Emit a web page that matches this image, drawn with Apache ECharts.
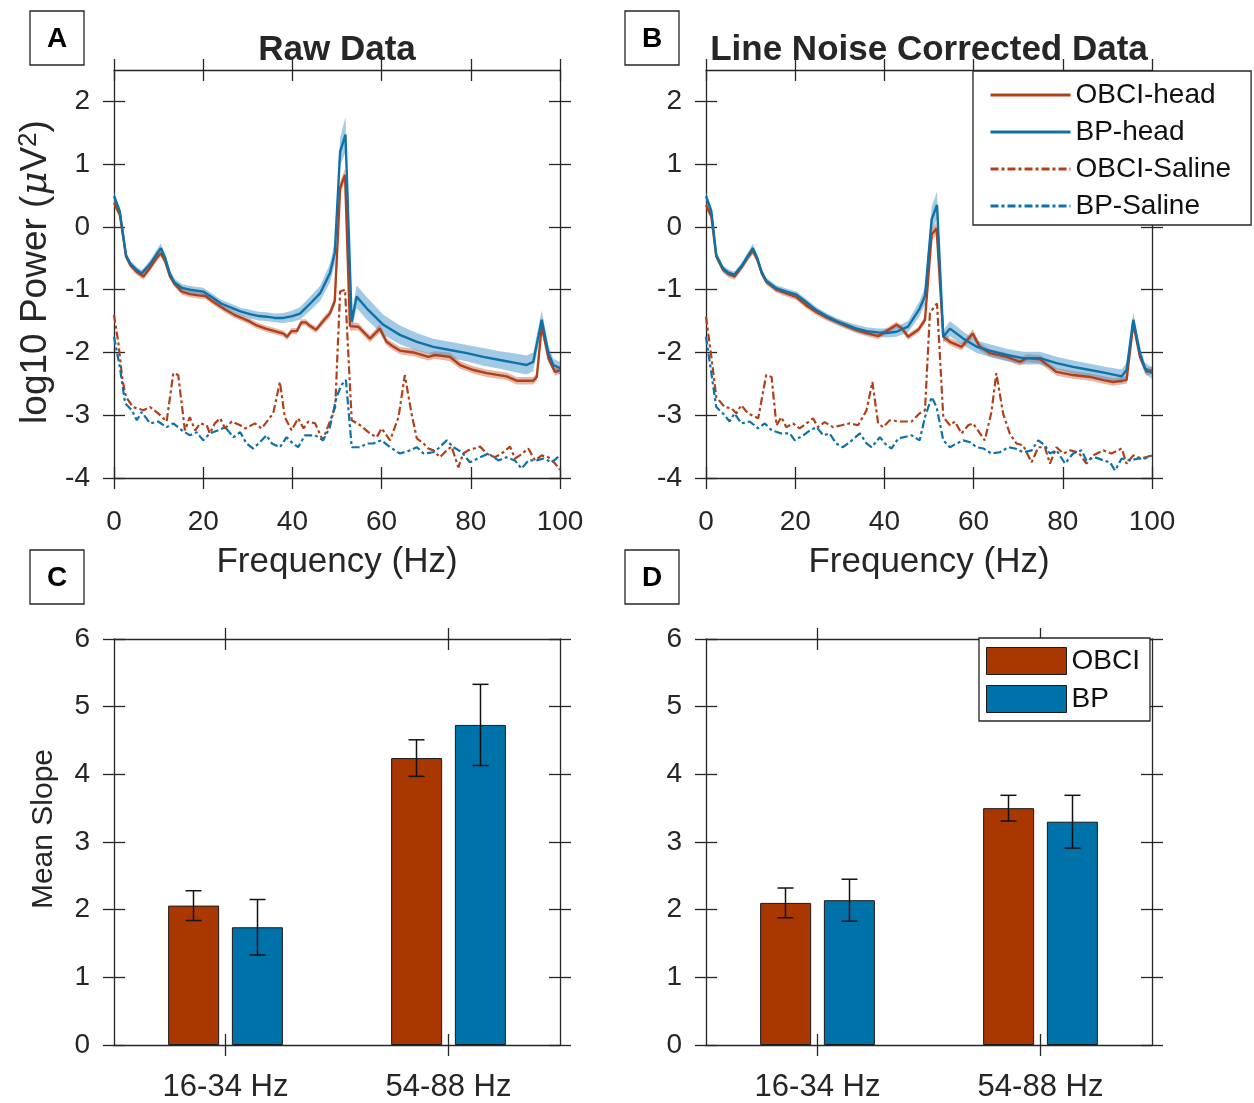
<!DOCTYPE html>
<html><head><meta charset="utf-8">
<script src="https://cdn.jsdelivr.net/npm/echarts@6.0.0/dist/echarts.min.js"></script>
<style>html,body{margin:0;padding:0;background:#fff}#c{width:1254px;height:1103px}</style>
</head><body><div id="c"></div>
<script>
// ---------------- DATA ----------------
const freqTicks = [0, 20, 40, 60, 80, 100];
const powerTicks = [-4, -3, -2, -1, 0, 1, 2];
const slopeTicks = [0, 1, 2, 3, 4, 5, 6];
const bandCategories = ['16-34 Hz', '54-88 Hz'];
const lineNames = ['OBCI-head', 'BP-head', 'OBCI-Saline', 'BP-Saline'];
const barNames = ['OBCI', 'BP'];

// Raw data: [frequency (Hz), mean log10 power, s.e.m.]
const rawObciHead = [[0,0.38,0.06],[1.3,0.2,0.06],[2.7,-0.47,0.05],[3.6,-0.6,0.05],[5,-0.71,0.05],[6.6,-0.79,0.05],[8,-0.66,0.05],[9.5,-0.5,0.06],[10.5,-0.42,0.06],[11.5,-0.55,0.06],[12.5,-0.78,0.05],[13.5,-0.9,0.05],[15.2,-1.03,0.05],[17,-1.07,0.05],[19,-1.09,0.05],[20.5,-1.1,0.05],[22,-1.18,0.05],[23.5,-1.25,0.05],[25,-1.32,0.05],[27,-1.4,0.05],[29,-1.46,0.05],[30.5,-1.51,0.05],[32,-1.57,0.05],[34,-1.62,0.05],[36,-1.66,0.05],[38,-1.7,0.05],[38.8,-1.75,0.05],[39.8,-1.66,0.05],[41,-1.66,0.05],[42,-1.52,0.05],[43,-1.52,0.05],[44,-1.58,0.05],[45.3,-1.64,0.05],[46.9,-1.5,0.06],[48.4,-1.38,0.06],[49.5,-1.18,0.07],[50.7,0.62,0.1],[51.8,0.83,0.1],[52.9,-1.58,0.07],[54.8,-1.59,0.06],[57.4,-1.78,0.06],[59.6,-1.62,0.07],[61.1,-1.83,0.06],[62.5,-1.9,0.06],[64.1,-1.97,0.06],[67.1,-2.0,0.06],[70.5,-2.07,0.06],[72,-2.04,0.06],[75.3,-2.07,0.07],[77.6,-2.2,0.06],[80.6,-2.28,0.06],[83.6,-2.33,0.06],[88,-2.38,0.06],[90.3,-2.45,0.06],[94,-2.45,0.06],[94.8,-2.39,0.06],[95.9,-1.58,0.08],[97.4,-2.09,0.07],[98.9,-2.31,0.06],[100,-2.28,0.06]];
const rawBpHead = [[0,0.49,0.08],[1.3,0.25,0.06],[2.7,-0.45,0.05],[3.6,-0.58,0.05],[5,-0.68,0.05],[6.2,-0.74,0.05],[8,-0.6,0.06],[9.5,-0.44,0.07],[10.5,-0.34,0.08],[11.5,-0.5,0.07],[12.5,-0.74,0.06],[13.5,-0.88,0.06],[15.2,-0.97,0.06],[17,-1.0,0.06],[20,-1.03,0.06],[22,-1.12,0.06],[24,-1.22,0.06],[26.8,-1.3,0.06],[28.5,-1.35,0.06],[30.5,-1.39,0.07],[32.5,-1.42,0.07],[34.2,-1.43,0.07],[36,-1.45,0.07],[38,-1.45,0.08],[40,-1.42,0.09],[41.7,-1.38,0.1],[44,-1.22,0.11],[46.2,-1.06,0.12],[48.4,-0.74,0.15],[49.5,-0.42,0.18],[50.7,1.2,0.22],[51.9,1.47,0.28],[53.3,-1.51,0.12],[54.4,-1.11,0.18],[56.7,-1.3,0.18],[60.4,-1.56,0.16],[64.1,-1.72,0.15],[67.9,-1.83,0.14],[71.6,-1.91,0.13],[75.3,-1.96,0.13],[79.1,-2.01,0.13],[82.8,-2.07,0.14],[86.5,-2.12,0.14],[90.3,-2.17,0.15],[92.5,-2.2,0.15],[94,-2.15,0.15],[95.9,-1.48,0.15],[97.4,-2.01,0.12],[98.5,-2.2,0.1],[100,-2.25,0.1]];
// [frequency (Hz), mean log10 power]
const rawObciSaline = [[0,-1.40],[1,-1.86],[1.9,-2.44],[2.7,-2.71],[4.3,-2.87],[6.6,-2.92],[8.1,-2.87],[9.9,-2.97],[11.8,-3.1],[13.3,-2.33],[14.4,-2.36],[15.9,-3.24],[17,-3.03],[18.2,-3.24],[19.3,-3.13],[20.8,-3.16],[21.5,-3.29],[22.6,-3.13],[23.8,-3.05],[24.9,-3.21],[26.4,-3.1],[28.3,-3.16],[29.4,-3.21],[31.6,-3.13],[33.1,-3.21],[35.7,-2.97],[37.2,-2.47],[38.3,-3.03],[39.8,-3.24],[41.3,-3.05],[42.5,-3.21],[43.6,-3.1],[45.1,-3.13],[46.8,-3.4],[48.4,-3.1],[49.6,-2.87],[50.7,-1.03],[51.8,-1.0],[53.3,-3.08],[55.2,-3.16],[57.4,-3.29],[58.9,-3.35],[60,-3.21],[61.9,-3.4],[63.8,-3.03],[65.2,-2.36],[66.7,-2.97],[67.9,-3.37],[69.4,-3.45],[70.5,-3.53],[71.6,-3.56],[73.1,-3.67],[74.6,-3.56],[75.7,-3.5],[77.2,-3.83],[78.3,-3.61],[79.4,-3.56],[82.1,-3.5],[83.6,-3.61],[85.4,-3.67],[87.3,-3.59],[88.8,-3.5],[89.9,-3.69],[91,-3.64],[92.9,-3.53],[94.4,-3.72],[95.9,-3.64],[97.4,-3.67],[98.9,-3.77],[100,-3.87]];
const rawBpSaline = [[0,-1.75],[1.3,-2.23],[2.5,-2.81],[4,-2.92],[5.1,-3.08],[6.2,-2.95],[8.1,-3.13],[9.9,-3.1],[11.8,-3.19],[13.3,-3.13],[15.2,-3.24],[17,-3.32],[18.5,-3.27],[20,-3.4],[21.5,-3.29],[23.4,-3.24],[24.9,-3.19],[26.8,-3.35],[28.3,-3.27],[29.7,-3.45],[31.2,-3.53],[32.7,-3.43],[34.2,-3.32],[35.4,-3.45],[37.2,-3.51],[38.7,-3.35],[39.8,-3.43],[41.3,-3.51],[42.8,-3.32],[45.1,-3.32],[46.9,-3.4],[48.4,-3.19],[49.9,-2.71],[51,-2.52],[52,-2.44],[53.3,-3.51],[55.2,-3.51],[56.7,-3.45],[58.1,-3.45],[60,-3.4],[61.9,-3.51],[64.1,-3.61],[66.4,-3.56],[67.9,-3.51],[69.4,-3.61],[71.6,-3.59],[72.7,-3.53],[74.6,-3.4],[76.1,-3.51],[78,-3.59],[79.8,-3.75],[82.1,-3.67],[83.9,-3.61],[86.2,-3.72],[88,-3.67],[89.9,-3.72],[91.4,-3.85],[92.9,-3.72],[94.8,-3.72],[96.3,-3.69],[98.2,-3.75],[100,-3.64]];

// Line-noise corrected data
const cleanObciHead = [[0,0.35,0.06],[1.2,0.17,0.06],[2.3,-0.47,0.05],[3.8,-0.68,0.05],[5,-0.75,0.05],[6.4,-0.79,0.05],[8,-0.64,0.05],[9.5,-0.47,0.06],[10.5,-0.38,0.06],[11.5,-0.52,0.06],[12.5,-0.74,0.05],[13.5,-0.87,0.05],[15.8,-1.0,0.05],[18,-1.06,0.05],[20.3,-1.12,0.05],[22.5,-1.25,0.05],[24.8,-1.36,0.05],[27,-1.44,0.05],[29.2,-1.51,0.05],[31.5,-1.58,0.05],[33.7,-1.64,0.05],[36,-1.69,0.05],[38.6,-1.74,0.05],[40.5,-1.66,0.05],[42.7,-1.56,0.05],[44,-1.62,0.05],[45.3,-1.75,0.05],[47.6,-1.64,0.05],[49.1,-1.48,0.06],[50.6,-0.12,0.09],[51.7,-0.02,0.1],[53.2,-1.75,0.06],[54.7,-1.83,0.06],[57.3,-1.91,0.06],[59.8,-1.7,0.07],[61.4,-1.91,0.06],[63.6,-2.01,0.06],[67.4,-2.07,0.06],[70.4,-2.15,0.06],[71.9,-2.09,0.06],[74.9,-2.11,0.07],[77.1,-2.23,0.06],[78.6,-2.31,0.06],[82.3,-2.36,0.06],[86.1,-2.39,0.06],[89.1,-2.44,0.06],[91.3,-2.47,0.06],[94.3,-2.44,0.06],[95.8,-1.54,0.08],[97.3,-2.07,0.07],[98.8,-2.31,0.06],[100,-2.28,0.06]];
const cleanBpHead = [[0,0.49,0.07],[1.2,0.25,0.06],[2.3,-0.45,0.05],[3.8,-0.66,0.05],[5,-0.73,0.05],[6.4,-0.76,0.05],[8,-0.62,0.05],[9.5,-0.45,0.06],[10.5,-0.34,0.07],[11.5,-0.5,0.06],[12.5,-0.72,0.05],[13.5,-0.86,0.05],[15.8,-0.98,0.05],[18,-1.03,0.05],[20.3,-1.08,0.05],[22.5,-1.2,0.05],[24.8,-1.33,0.05],[27,-1.42,0.05],[29.2,-1.5,0.05],[31.5,-1.56,0.05],[33.7,-1.62,0.06],[36,-1.66,0.06],[38.6,-1.68,0.06],[40.5,-1.69,0.07],[42.7,-1.67,0.08],[45.3,-1.59,0.09],[47.9,-1.3,0.12],[49.1,-1.1,0.14],[50.6,0.12,0.2],[51.8,0.35,0.22],[53.2,-1.75,0.1],[54.7,-1.62,0.12],[57.7,-1.78,0.11],[60.7,-1.91,0.1],[63.6,-1.97,0.1],[67.4,-2.04,0.1],[71.1,-2.09,0.1],[74.9,-2.09,0.1],[78.6,-2.17,0.1],[82.3,-2.23,0.1],[86.1,-2.28,0.1],[89.8,-2.33,0.1],[93.2,-2.38,0.11],[94.3,-2.28,0.12],[95.8,-1.48,0.12],[97.3,-2.01,0.1],[98.4,-2.25,0.09],[100,-2.33,0.09]];
const cleanObciSaline = [[0,-1.43],[1.2,-2.07],[2.3,-2.71],[4.2,-2.87],[5.7,-2.89],[6.8,-2.97],[7.9,-2.84],[9.4,-2.97],[11.7,-3.05],[13.5,-2.36],[14.7,-2.39],[15.8,-3.16],[16.9,-3.03],[18,-3.19],[19.5,-3.13],[21,-3.21],[22.5,-3.13],[24,-3.05],[25.1,-3.19],[26.6,-3.11],[28.5,-3.19],[30.4,-3.16],[32.2,-3.13],[34.1,-3.16],[36,-2.92],[37.3,-2.47],[38.6,-3.13],[39.7,-3.19],[41.2,-3.08],[43.5,-3.1],[46.1,-3.1],[47.9,-2.97],[49.1,-2.92],[50.2,-1.38],[50.9,-1.3],[51.8,-1.22],[53.2,-3.03],[54.7,-3.16],[55.8,-3.1],[57.3,-3.29],[58.8,-3.16],[59.9,-3.13],[62.5,-3.4],[64,-2.95],[65.1,-2.33],[66.6,-2.97],[68.1,-3.29],[69.6,-3.45],[71.1,-3.48],[73,-3.75],[74.5,-3.51],[76,-3.51],[77.1,-3.77],[78.6,-3.51],[80.1,-3.61],[81.6,-3.56],[83.5,-3.59],[85.3,-3.77],[86.8,-3.64],[89.1,-3.56],[90.9,-3.61],[93.2,-3.53],[94.3,-3.77],[95.8,-3.64],[97.7,-3.69],[100,-3.64]];
const cleanBpSaline = [[0,-1.75],[1.2,-2.33],[2.3,-2.87],[3.8,-2.97],[5.3,-3.1],[6.4,-2.97],[7.9,-3.13],[9.8,-3.1],[11.7,-3.21],[13.2,-3.13],[14.7,-3.24],[16.9,-3.29],[18.8,-3.29],[19.9,-3.4],[21.8,-3.32],[23.3,-3.24],[24.8,-3.19],[26.3,-3.32],[27.7,-3.29],[29.2,-3.45],[30.7,-3.51],[32.2,-3.43],[34.5,-3.29],[36,-3.45],[37.1,-3.51],[39,-3.35],[40.1,-3.45],[41.6,-3.53],[43.1,-3.37],[46.1,-3.32],[47.9,-3.4],[49.1,-3.03],[50.6,-2.71],[51.7,-2.87],[53.2,-3.4],[54.7,-3.51],[56.2,-3.45],[57.7,-3.4],[59.2,-3.43],[60.7,-3.51],[62.2,-3.53],[64,-3.61],[65.9,-3.59],[67.8,-3.51],[69.3,-3.53],[71.1,-3.59],[73,-3.56],[74.5,-3.4],[76,-3.48],[77.1,-3.61],[78.6,-3.56],[80.5,-3.77],[82.3,-3.61],[84.2,-3.56],[85.3,-3.72],[87.2,-3.67],[89.1,-3.72],[90.6,-3.75],[91.7,-3.88],[93.2,-3.69],[95.1,-3.72],[96.9,-3.69],[98.4,-3.69],[100,-3.64]];

// Mean slope per band (C: raw, D: line-noise corrected)
const rawSlopeObci = [2.06, 4.24];
const rawSlopeObciErr = [0.22, 0.27];
const rawSlopeBp = [1.74, 4.73];
const rawSlopeBpErr = [0.41, 0.60];
const cleanSlopeObci = [2.10, 3.50];
const cleanSlopeObciErr = [0.22, 0.19];
const cleanSlopeBp = [2.14, 3.30];
const cleanSlopeBpErr = [0.31, 0.39];

// ---------------- STYLE ----------------
const FONT = "'Liberation Sans', Arial, Helvetica, sans-serif";
const AX = '#262626';
const ORANGE = '#B0401A';
const BLUE = '#0E72A8';
const ORANGE_BAND = 'rgba(200,95,60,0.45)';
const BLUE_BAND = 'rgba(60,145,200,0.48)';
const BAR_ORANGE = '#A93700';
const BAR_BLUE = '#0072AA';
const TICK_LEN = 11;
const grids = [
  {left: 114, top: 70, width: 446, height: 408},
  {left: 706, top: 70, width: 446, height: 408},
  {left: 114, top: 639, width: 446, height: 407},
  {left: 706, top: 639, width: 446, height: 407}
];

function makeAxes(gi, base, dim, labelOpt) {
  const out = [];
  const positions = dim === 'x' ? ['bottom', 'top'] : ['left', 'right'];
  positions.forEach((pos, pi) => {
    [false, true].forEach((inside) => {
      const ax = Object.assign({}, base, {
        gridIndex: gi,
        position: pos,
        splitLine: {show: false},
        axisPointer: {show: false},
        axisLine: {show: !inside, onZero: false, lineStyle: {color: AX, width: 1.3}},
        axisTick: Object.assign({show: true, inside: inside, length: TICK_LEN,
          lineStyle: {color: AX, width: 1.3}}, base.tickExtra || {}),
        axisLabel: (pi === 0 && !inside) ? labelOpt : {show: false}
      });
      delete ax.tickExtra;
      out.push(ax);
    });
  });
  return out;
}

const xAxes = [], yAxes = [];
[0, 1].forEach(gi => {
  xAxes.push(...makeAxes(gi, {type: 'value', min: 0, max: 100, interval: 20}, 'x',
    {show: true, margin: 30, fontSize: 28, color: AX, fontFamily: FONT,
     customValues: freqTicks}));
  yAxes.push(...makeAxes(gi, {type: 'value', min: -4, max: 2.5,
    tickExtra: {customValues: powerTicks}}, 'y',
    {show: true, margin: 24, fontSize: 28, color: AX, fontFamily: FONT, customValues: powerTicks}));
});
[2, 3].forEach(gi => {
  xAxes.push(...makeAxes(gi, {type: 'category', data: bandCategories, boundaryGap: true,
    tickExtra: {alignWithLabel: true}}, 'x',
    {show: true, margin: 27, fontSize: 31, color: AX, fontFamily: FONT}));
  yAxes.push(...makeAxes(gi, {type: 'value', min: 0, max: 6, interval: 1}, 'y',
    {show: true, margin: 24, fontSize: 28, color: AX, fontFamily: FONT, customValues: slopeTicks}));
});

function bandSeries(points, gi, fill) {
  return {
    type: 'custom', coordinateSystem: 'cartesian2d',
    xAxisIndex: gi * 4, yAxisIndex: gi * 4, silent: true, clip: true,
    data: points.map(p => [p[0], p[1]]),
    renderItem: function (params, api) {
      if (params.dataIndex !== 0) return null;
      const upper = points.map(p => api.coord([p[0], p[1] + p[2]]));
      const lower = points.map(p => api.coord([p[0], p[1] - p[2]])).reverse();
      return {type: 'polygon', shape: {points: upper.concat(lower)}, style: {fill: fill}};
    }
  };
}
function lineSeries(name, points, gi, color, dashed) {
  return {
    name: name, type: 'line', xAxisIndex: gi * 4, yAxisIndex: gi * 4,
    data: points.map(p => [p[0], p[1]]),
    symbol: 'none', silent: true, animation: false,
    lineStyle: dashed ? {color: color, width: 2.2, type: [8, 3, 3, 3]} : {color: color, width: 2.4},
    itemStyle: {color: color}
  };
}
function barSeries(name, vals, gi, color) {
  return {
    name: name, type: 'bar', xAxisIndex: gi * 4, yAxisIndex: gi * 4,
    data: vals, barWidth: 51, barGap: '25%', silent: true,
    itemStyle: {color: color, borderColor: '#1a1a1a', borderWidth: 1}
  };
}
function errSeries(means, errs, gi, dx) {
  return {
    type: 'custom', coordinateSystem: 'cartesian2d', xAxisIndex: gi * 4, yAxisIndex: gi * 4,
    silent: true, z: 5,
    data: means.map((m, i) => [i, m, errs[i]]),
    renderItem: function (params, api) {
      const i = api.value(0), m = api.value(1), e = api.value(2);
      const top = api.coord([i, m + e]);
      const bot = api.coord([i, m - e]);
      const x = top[0] + dx, hw = 8;
      const st = {stroke: '#111', lineWidth: 1.5};
      return {type: 'group', children: [
        {type: 'line', shape: {x1: x, y1: top[1], x2: x, y2: bot[1]}, style: st},
        {type: 'line', shape: {x1: x - hw, y1: top[1], x2: x + hw, y2: top[1]}, style: st},
        {type: 'line', shape: {x1: x - hw, y1: bot[1], x2: x + hw, y2: bot[1]}, style: st}
      ]};
    }
  };
}

const series = [];
[[rawObciHead, rawBpHead, rawObciSaline, rawBpSaline, 0],
 [cleanObciHead, cleanBpHead, cleanObciSaline, cleanBpSaline, 1]].forEach(s => {
  const gi = s[4];
  series.push(bandSeries(s[0], gi, ORANGE_BAND));
  series.push(lineSeries(lineNames[0], s[0], gi, ORANGE, false));
  series.push(bandSeries(s[1], gi, BLUE_BAND));
  series.push(lineSeries(lineNames[1], s[1], gi, BLUE, false));
  series.push(lineSeries(lineNames[2], s[2], gi, ORANGE, true));
  series.push(lineSeries(lineNames[3], s[3], gi, BLUE, true));
});
const BAR_OFF = 32;
[[rawSlopeObci, rawSlopeObciErr, rawSlopeBp, rawSlopeBpErr, 2],
 [cleanSlopeObci, cleanSlopeObciErr, cleanSlopeBp, cleanSlopeBpErr, 3]].forEach(s => {
  const gi = s[4];
  series.push(barSeries(barNames[0], s[0], gi, BAR_ORANGE));
  series.push(barSeries(barNames[1], s[2], gi, BAR_BLUE));
  series.push(errSeries(s[0], s[1], gi, -BAR_OFF));
  series.push(errSeries(s[2], s[3], gi, BAR_OFF));
});

function letterBox(x, y, letter) {
  return [
    {type: 'rect', shape: {x: x, y: y, width: 54, height: 54}, style: {fill: '#fff', stroke: AX, lineWidth: 1.3}, z: 10},
    {type: 'text', x: x + 27, y: y + 28, z: 11, style: {text: letter, font: 'bold 28px ' + FONT, fill: '#000', align: 'center', verticalAlign: 'middle'}}
  ];
}
function plainText(x, y, text, font, rot) {
  return {type: 'text', x: x, y: y, rotation: rot || 0, z: 11,
    style: {text: text, font: font, fill: AX, align: 'center', verticalAlign: 'middle'}};
}
const graphic = [].concat(
  letterBox(30, 11, 'A'), letterBox(625, 11, 'B'), letterBox(30, 550, 'C'), letterBox(625, 550, 'D'),
  [
    plainText(337, 50, 'Raw Data', 'bold 35px ' + FONT),
    plainText(929, 50, 'Line Noise Corrected Data', 'bold 35px ' + FONT),
    plainText(337, 562, 'Frequency (Hz)', '35px ' + FONT),
    plainText(929, 562, 'Frequency (Hz)', '35px ' + FONT),
    plainText(44, 829, 'Mean Slope', '30px ' + FONT, Math.PI / 2),
    {type: 'text', x: 36, y: 272, rotation: Math.PI / 2, z: 11,
     style: {text: '{n|log10 Power (}{m|\u03BC}{n|V}{s|2}{n|)}', align: 'center', verticalAlign: 'middle',
       rich: {
         n: {font: '37px ' + FONT, fill: AX},
         m: {font: 'italic 37px "DejaVu Serif", serif', fill: AX},
         s: {font: '26px ' + FONT, fill: AX, verticalAlign: 'top', padding: [0, 0, 15, 0]}
       }}}
  ]
);

const chart = echarts.init(document.getElementById('c'), null, {renderer: 'canvas'});
chart.setOption({
  backgroundColor: '#fff',
  animation: false,
  textStyle: {fontFamily: FONT},
  grid: grids,
  xAxis: xAxes,
  yAxis: yAxes,
  series: series,
  legend: [
    {data: lineNames, orient: 'vertical', left: 973, top: 71, padding: [10, 20, 5, 16],
     itemWidth: 80, itemHeight: 26, itemGap: 9, selectedMode: false,
     itemStyle: {opacity: 0}, lineStyle: {width: 3},
     backgroundColor: '#fff', borderColor: AX, borderWidth: 1.3, z: 20,
     textStyle: {fontSize: 28, lineHeight: 26, color: '#111', fontFamily: FONT}},
    {data: barNames, orient: 'vertical', left: 979, top: 638, padding: [9, 10, 8, 7],
     itemWidth: 80, itemHeight: 27, itemGap: 10, selectedMode: false, icon: 'rect',
     backgroundColor: '#fff', borderColor: AX, borderWidth: 1.3, z: 20,
     itemStyle: {borderColor: '#1a1a1a', borderWidth: 1},
     textStyle: {fontSize: 28, lineHeight: 27, color: '#111', fontFamily: FONT}}
  ],
  graphic: graphic
});
</script>
</body></html>
